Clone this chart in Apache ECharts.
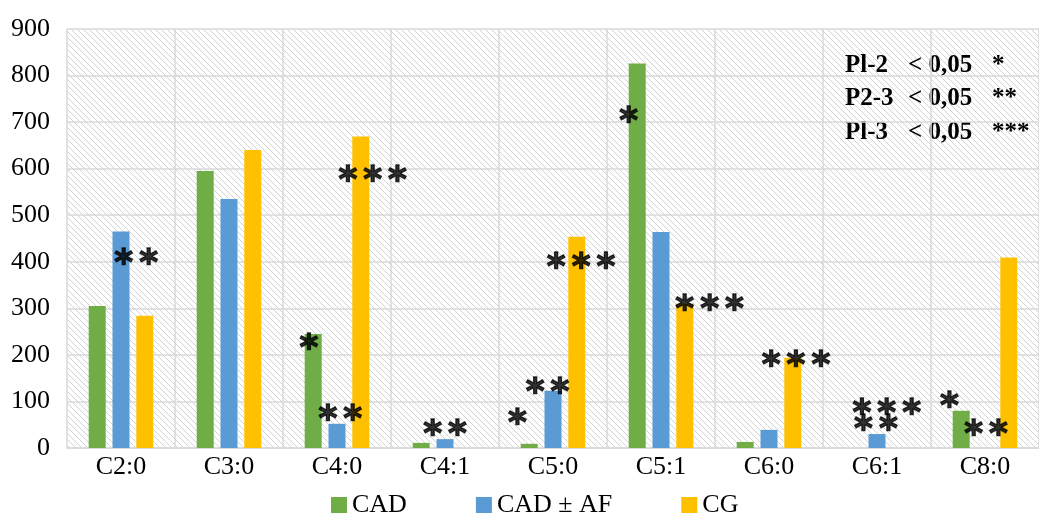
<!DOCTYPE html>
<html><head><meta charset="utf-8">
<script src="https://cdn.jsdelivr.net/npm/echarts@6/dist/echarts.min.js"></script>
<style>html,body{margin:0;padding:0;background:#fff}#c{width:1039px;height:516px}</style>
</head><body><div id="c"></div>
<script>
const categories = ['C2:0','C3:0','C4:0','C4:1','C5:0','C5:1','C6:0','C6:1','C8:0'];
const seriesNames = ['CAD','CAD ± AF','CG'];
const cadValues   = [305, 595, 245, 11, 9, 826, 13, 0, 80];
const cadAfValues = [465, 535, 52, 19, 123, 464, 39, 30, 0];
const cgValues    = [284, 640, 669, 0, 454, 310, 194, 0, 409];
const yTicks = {min: 0, max: 900, interval: 100};
// significance marks: x in category-index units, y in data units
const markX    = [0.14, 1.74, 2.03, 2.33, 3.00, 3.67, 3.95, 4.26, 4.70, 5.45, 6.25, 7.09, 6.99, 7.67, 8.01];
const markY    = [411, 228, 77, 589, 43, 67, 133, 402, 716, 312, 191, 88, 54, 103, 43];
const markText = ['**','*','**','***','**','*','**','***','*','***','***','***','**','*','**'];
const noteLabels = ['Pl-2', 'P2-3', 'Pl-3'];
const noteValues = ['< 0,05', '< 0,05', '< 0,05'];
const noteStars  = ['*', '**', '***'];

const colors = ['#70AD47', '#5B9BD5', '#FFC000'];
const serif = '"Liberation Serif", "Times New Roman", serif';

const tile = document.createElement('canvas');
tile.width = 6; tile.height = 6;
const tctx = tile.getContext('2d');
tctx.fillStyle = '#ffffff'; tctx.fillRect(0, 0, 6, 6);
tctx.strokeStyle = '#d2d2d2'; tctx.lineWidth = 1;
for (const k of [-6, 0, 6]) { tctx.beginPath(); tctx.moveTo(k, 0); tctx.lineTo(k + 6, 6); tctx.stroke(); }

const chart = echarts.init(document.getElementById('c'), null, {renderer: 'canvas'});
const gridLine = {color: '#d9d9d9', width: 1.5};

const graphic = [];
noteLabels.forEach((t, i) => {
  const y = 53 + i * 33.5;
  graphic.push({type: 'text', left: 845, top: y, style: {text: t, font: 'bold 25px ' + serif, fill: '#000'}});
  graphic.push({type: 'text', left: 908, top: y, style: {text: noteValues[i], font: 'bold 25px ' + serif, fill: '#000'}});
  graphic.push({type: 'text', left: 992, top: y, style: {text: noteStars[i], font: 'bold 25px ' + serif, fill: '#000'}});
});

chart.setOption({
  animation: false,
  backgroundColor: '#ffffff',
  color: colors,
  grid: {left: 67, right: -13, top: 29, bottom: 68, show: true, borderWidth: 0,
         backgroundColor: {image: tile, repeat: 'repeat'}},
  legend: {left: 331, top: 492, padding: 0, itemWidth: 16, itemHeight: 16, itemGap: 69, icon: 'rect',
           textStyle: {fontFamily: serif, fontSize: 26, color: '#000'},
           data: seriesNames},
  xAxis: [{
    type: 'category', data: categories, gridIndex: 0,
    axisTick: {show: false},
    axisLine: {lineStyle: gridLine},
    splitLine: {show: true, interval: 0, lineStyle: gridLine},
    axisLabel: {fontFamily: serif, fontSize: 26, color: '#000', margin: 6, interval: 0}
  }, {
    type: 'value', min: -0.5, max: 8.5, show: false, gridIndex: 0
  }],
  yAxis: {
    type: 'value', min: yTicks.min, max: yTicks.max, interval: yTicks.interval,
    axisLine: {show: false}, axisTick: {show: false},
    splitLine: {lineStyle: gridLine},
    axisLabel: {fontFamily: serif, fontSize: 26, color: '#000', margin: 17}
  },
  graphic: graphic,
  series: [
    {name: seriesNames[0], type: 'bar', data: cadValues, barWidth: 17, barGap: '40%'},
    {name: seriesNames[1], type: 'bar', data: cadAfValues, barWidth: 17, barGap: '40%'},
    {name: seriesNames[2], type: 'bar', data: cgValues, barWidth: 17, barGap: '40%'},
    {type: 'scatter', xAxisIndex: 1, symbolSize: 0, silent: true, z: 10,
     data: markX.map((x, i) => ({value: [x, markY[i]],
                                 label: {formatter: markText[i].split('').join('\u2006')}})),
     label: {show: true, position: 'inside', offset: [0, 8],
             fontFamily: '"DejaVu Sans", sans-serif', fontWeight: 'bold', fontSize: 36, color: '#000',
             textBorderColor: '#000', textBorderWidth: 1.3}}
  ]
});
</script></body></html>
